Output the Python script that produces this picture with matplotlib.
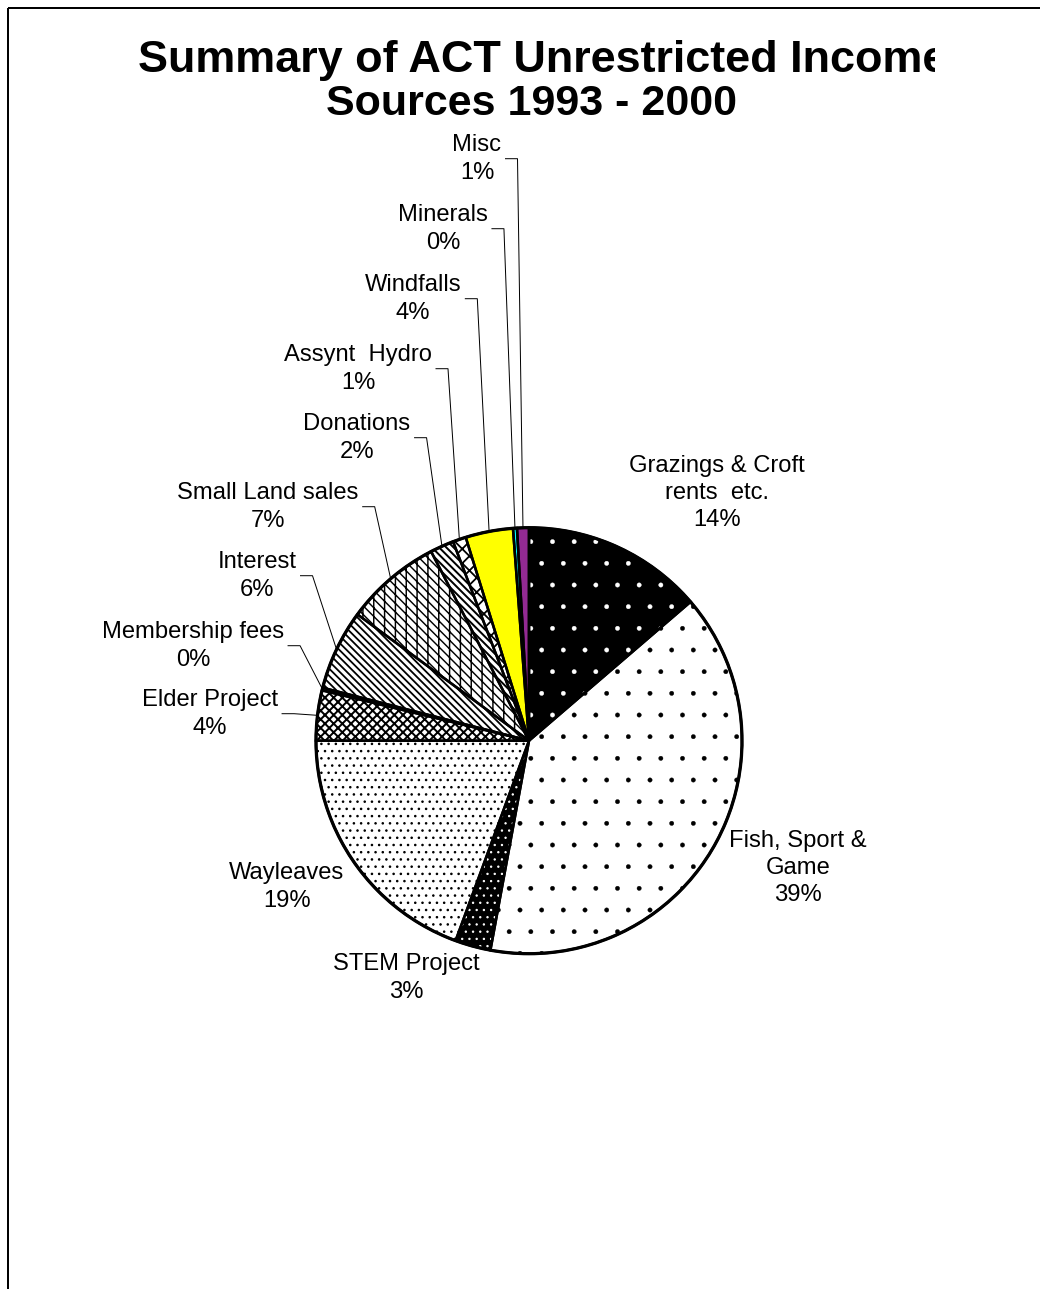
import matplotlib
matplotlib.use("Agg")
import matplotlib.pyplot as plt
import numpy as np
from matplotlib.transforms import Bbox, TransformedBbox

# ---------------- data ----------------
categories = ["Grazings & Croft\nrents  etc.", "Fish, Sport &\nGame", "STEM Project",
              "Wayleaves", "Elder Project", "Membership fees", "Interest",
              "Small Land sales", "Donations", "Assynt  Hydro", "Windfalls",
              "Minerals", "Misc"]
values = [13.7, 39.2, 2.7, 19.4, 3.8, 0.2, 6.1, 7.3, 1.8, 1.0, 3.6, 0.3, 0.9]
title_lines = ["Summary of ACT Unrestricted Income", "Sources 1993 - 2000"]

# ---------------- styles ----------------
face_colors = ["black", "white", "black", "white", "white", "white", "white",
               "white", "white", "white", "#ffff00", "#00ffff", "#932a93"]
hatch_colors = ["white", "black", "white", "black", "black", "black", "black",
                "black", "black", "black", "black", "black", "black"]
hatches = [".", ".", "...", "...", "xxxxx", "", "\\\\\\\\\\\\", "\\\\\\\\\\||",
           "\\\\\\\\\\\\", "xxx", "", "", ""]
hatch_lw = [0.2, 0.2, 0.5, 0.6, 1.1, 0.8, 1.0, 0.8, 1.1, 1.0, 1.0, 1.0, 1.0]

# label layout (pixel positions of label block centres) and leader flags
label_pos = [(717, 493), (798, 868), (406, 978), (287, 887), (210, 714),
             (193, 646), (257, 576), (268, 507), (357, 438), (358, 369),
             (413, 299), (443, 229), (477, 159)]
has_leader = [False, False, False, False, True, True, True, True, True, True,
              True, True, True]

W, H = 1040, 1289
DPI = 130
FONT = "Liberation Sans"

fig = plt.figure(figsize=(W / DPI, (H + 0.3) / DPI), dpi=DPI)
ax = fig.add_axes([0, 0, 1, 1])

cx, cy, R = 529, 741, 213

# filled + hatched wedges
wedges, _ = ax.pie(values, startangle=-90, counterclock=True, center=(cx, cy),
                   radius=R, colors=face_colors, hatch=hatches,
                   wedgeprops=dict(linewidth=0))
for w, hc, lw in zip(wedges, hatch_colors, hatch_lw):
    w.set_edgecolor(hc)
    w.set_linewidth(0)
    if hasattr(w, "set_hatch_linewidth"):
        w.set_hatch_linewidth(lw)

# outlines
ax.pie(values, startangle=-90, counterclock=True, center=(cx, cy), radius=R,
       wedgeprops=dict(fill=False, edgecolor="black", linewidth=1.4))
# slightly heavier outer rim
ax.pie([sum(values)], startangle=-90, counterclock=True, center=(cx, cy), radius=R,
       wedgeprops=dict(fill=False, edgecolor="black", linewidth=1.8))

ax.set_aspect("auto")
ax.set_xlim(0, W)
ax.set_ylim(H + 0.3, 0)
ax.axis("off")

# border of the chart area (top and left visible)
ax.plot([7.5, W + 5], [8.5, 8.5], color="black", lw=1.1, clip_on=False,
        solid_capstyle="butt")
ax.plot([7.5, 7.5], [8.5, H + 5], color="black", lw=1.1, clip_on=False,
        solid_capstyle="butt")

# title (first line clipped at right like the original)
clip = TransformedBbox(Bbox([[0, 0], [935, H]]), ax.transData)
t1 = ax.text(138, 72, title_lines[0], ha="left", va="baseline", fontsize=24.9,
             fontweight="bold", family=FONT)
t1.set_clip_box(clip)
t1.set_clip_on(True)
ax.text(531, 115, title_lines[1], ha="center", va="baseline", fontsize=23.8,
        fontweight="bold", family=FONT)

# labels
total = sum(values)
texts = []
for name, v, (lx, ly) in zip(categories, values, label_pos):
    pct = int(round(v / total * 100))
    t = ax.text(lx, ly, f"{name}\n{pct}%", ha="center", va="center",
                multialignment="center", fontsize=13.2, family=FONT,
                linespacing=1.32)
    texts.append(t)

fig.canvas.draw()
inv = ax.transData.inverted()
cum = np.cumsum([0] + values[:-1])
for t, v, c0, lead, (lx, ly) in zip(texts, values, cum, has_leader, label_pos):
    if not lead:
        continue
    bb = t.get_window_extent()
    (x0, _), (x1, _) = inv.transform([[bb.x0, bb.y0], [bb.x1, bb.y1]])
    xr = max(x0, x1)
    theta = np.deg2rad((c0 + v / 2) / total * 360)
    px = cx + R * np.sin(theta)
    py = cy - R * np.cos(theta)
    ax.plot([xr + 4, xr + 16, px], [ly, ly, py], color="black", lw=0.55)

fig.savefig("out.png", dpi=DPI, facecolor="white")
